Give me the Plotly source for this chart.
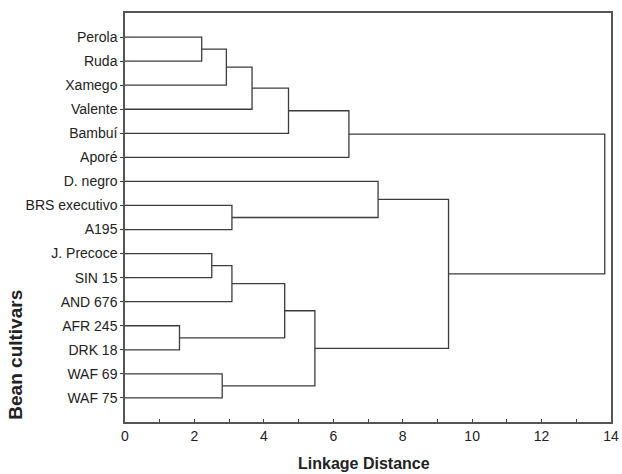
import plotly.graph_objects as go

# Leaf labels in display order (top to bottom)
labels = ["Perola", "Ruda", "Xamego", "Valente", "Bambuí", "Aporé",
          "D. negro", "BRS executivo", "A195", "J. Precoce", "SIN 15",
          "AND 676", "AFR 245", "DRK 18", "WAF 69", "WAF 75"]

# Merge steps: child ids (0..15 leaves, 16+ = merged cluster index) and linkage distance
merge_a = [0, 16, 17, 18, 19, 7, 6, 9, 23, 12, 24, 14, 26, 22, 20]
merge_b = [1, 2, 3, 4, 5, 8, 21, 10, 11, 13, 25, 15, 27, 28, 29]
merge_dist = [2.21, 2.92, 3.66, 4.71, 6.45, 3.08, 7.29, 2.50, 3.08, 1.57,
              4.60, 2.80, 5.47, 9.32, 13.82]

x_ticks = [0, 2, 4, 6, 8, 10, 12, 14]

n = len(labels)
pos = {i: i + 1 for i in range(n)}
height = {i: 0.0 for i in range(n)}
xs, ys = [], []
for k, (a, b, d) in enumerate(zip(merge_a, merge_b, merge_dist)):
    ya, yb = pos[a], pos[b]
    xs += [height[a], d, d, height[b], None]
    ys += [ya, ya, yb, yb, None]
    cid = n + k
    pos[cid] = (ya + yb) / 2
    height[cid] = d

line_col = "#3c3c3c"
txt_col = "#222222"
font = "Liberation Sans, Arial, sans-serif"

fig = go.Figure()
fig.add_trace(go.Scatter(x=xs, y=ys, mode="lines",
                         line=dict(color=line_col, width=1.3),
                         hoverinfo="skip", showlegend=False))

fig.update_layout(
    width=622, height=474,
    margin=dict(l=125, r=11, t=13, b=52),
    plot_bgcolor="white", paper_bgcolor="white",
    font=dict(family=font, color=txt_col, size=14),
    xaxis=dict(range=[0, 14], tickvals=x_ticks, ticks="inside", ticklen=3,
               tickcolor=line_col, showgrid=False, zeroline=False,
               showline=True, linecolor="#555555", linewidth=1.5, mirror=True,
               minor=dict(dtick=1, ticks="inside", ticklen=3, tickcolor=line_col),
               tickfont=dict(size=14), automargin=False),
    yaxis=dict(range=[17, 0], tickvals=list(range(1, n + 1)), ticktext=labels,
               ticks="outside", ticklen=3, tickcolor=line_col,
               showgrid=False, zeroline=False,
               showline=True, linecolor="#555555", linewidth=1.5, mirror=True,
               tickfont=dict(size=14), automargin=False),
    annotations=[
        dict(text="<b>Linkage Distance</b>", xref="paper", yref="paper",
             x=0.492, y=-0.101, xanchor="center", yanchor="middle",
             showarrow=False, font=dict(size=16, color=txt_col)),
        dict(text="<b>Bean cultivars</b>", xref="paper", yref="paper",
             x=-0.226, y=0.165, xanchor="center", yanchor="middle",
             textangle=-90, showarrow=False, font=dict(size=19, color=txt_col)),
    ],
)

fig.write_html("out.html", config={"displayModeBar": False},
               post_script="document.body.style.margin='0';document.body.style.overflow='hidden';")
